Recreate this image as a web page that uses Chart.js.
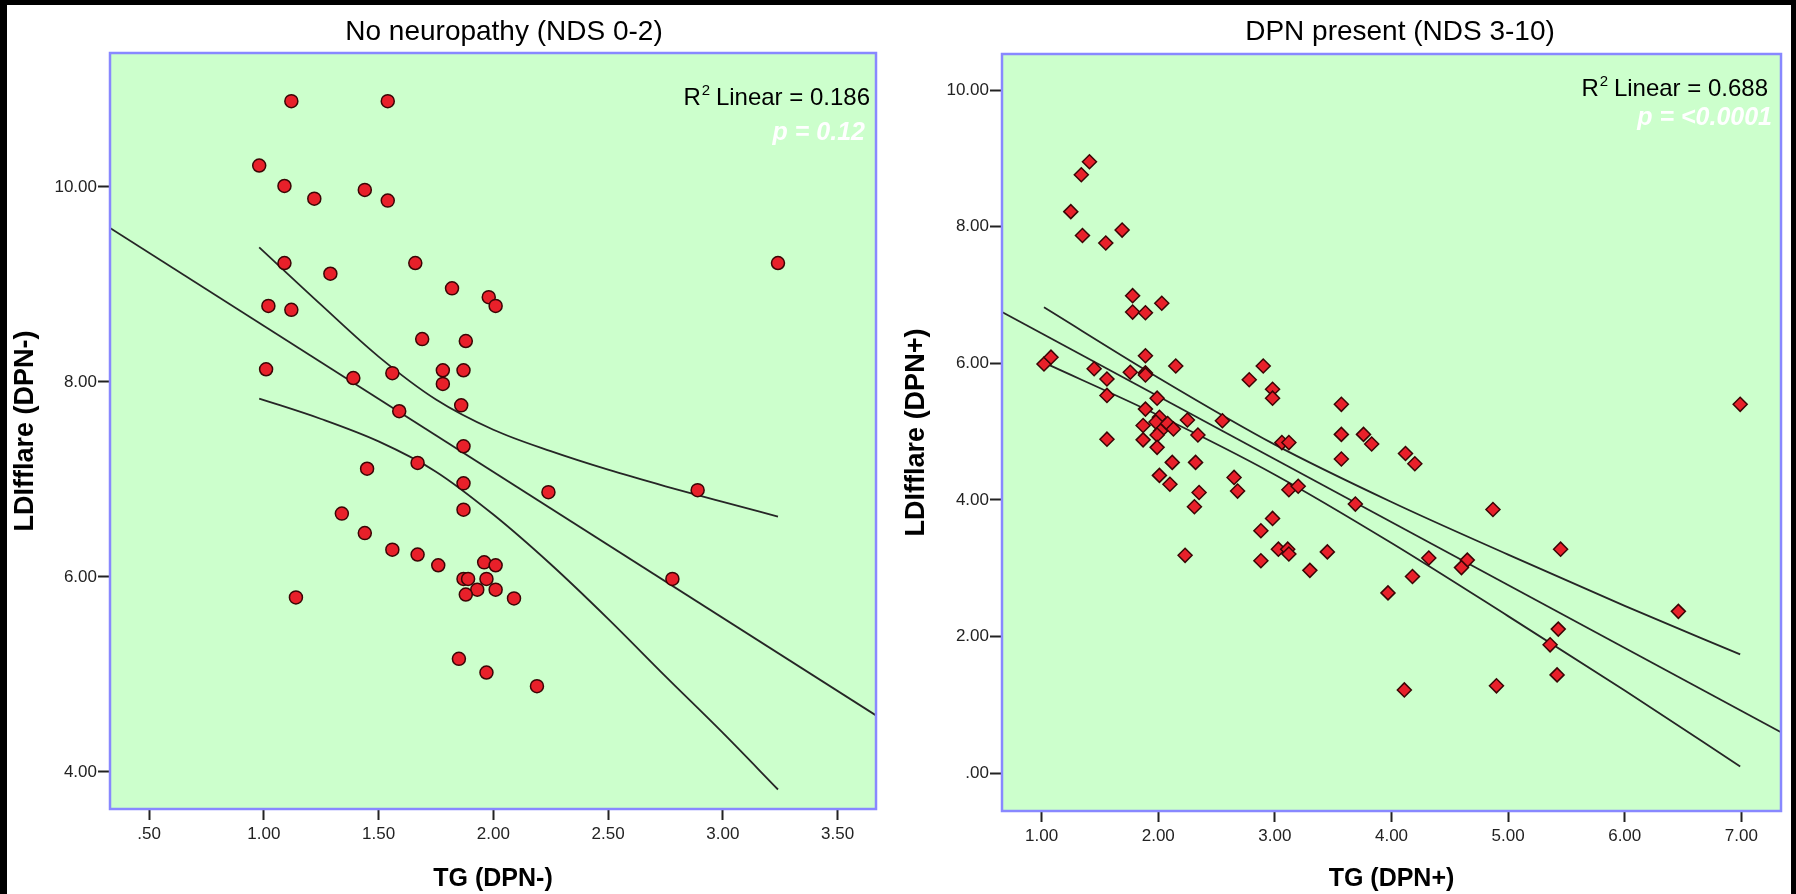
<!DOCTYPE html>
<html>
<head>
<meta charset="utf-8">
<title>LDIflare vs TG</title>
<script src="https://cdn.jsdelivr.net/npm/chart.js@4.4.1/dist/chart.umd.min.js"></script>
<style>
  html, body { margin: 0; padding: 0; background: #000; }
  #page { position: relative; width: 1796px; height: 894px; background: #000; overflow: hidden; }
  #sheet { position: absolute; left: 7px; top: 5px; width: 1784px; height: 889px; background: #fff; }
  .panel { position: absolute; top: 0; width: 898px; height: 894px; }
</style>
</head>
<body>
<div id="page">
  <div id="sheet"></div>
  <div class="panel" style="left:0"><canvas id="chartNoDpn" width="898" height="894"></canvas></div>
  <div class="panel" style="left:898px"><canvas id="chartDpn" width="898" height="894"></canvas></div>
</div>
<script>
// --- No neuropathy (NDS 0-2) ---
const tgNoDpn = [1.12, 1.54, 0.98, 1.09, 1.22, 1.44, 1.54, 1.09, 1.29, 1.66, 3.24, 1.82, 1.98, 2.01,
  1.02, 1.12, 1.69, 1.88, 1.01, 1.78, 1.87, 1.78, 1.39, 1.56, 1.86, 1.59, 1.87, 1.45, 1.67, 1.87,
  2.24, 2.89, 1.34, 1.87, 1.44, 1.56, 1.67, 1.76, 1.96, 2.01, 1.87, 1.89, 1.97, 2.78, 1.14, 1.93,
  2.01, 1.88, 2.09, 1.85, 1.97, 2.19];
const ldiNoDpn = [10.88, 10.88, 10.22, 10.01, 9.88, 9.97, 9.86, 9.22, 9.11, 9.22, 9.22, 8.96, 8.87, 8.78,
  8.78, 8.74, 8.44, 8.42, 8.13, 8.12, 8.12, 7.98, 8.04, 8.09, 7.76, 7.70, 7.34, 7.11, 7.17, 6.96,
  6.87, 6.89, 6.65, 6.69, 6.45, 6.28, 6.23, 6.12, 6.15, 6.12, 5.98, 5.98, 5.98, 5.98, 5.79, 5.87,
  5.87, 5.82, 5.78, 5.16, 5.02, 4.88];

// fit line and 95% mean CI band
const fitNoX = [0.33, 3.667];
const fitNoY = [9.58, 4.58];
const upperNoX = [0.98, 1.25, 1.5, 1.75, 2.0, 2.25, 2.5, 2.75, 3.0, 3.24];
const upperNoY = [9.38, 8.79, 8.26, 7.82, 7.51, 7.29, 7.10, 6.93, 6.77, 6.62];
const lowerNoX = [0.98, 1.25, 1.5, 1.75, 2.0, 2.25, 2.5, 2.75, 3.0, 3.24];
const lowerNoY = [7.83, 7.62, 7.39, 7.08, 6.64, 6.13, 5.57, 4.98, 4.40, 3.82];

const xTicksNoDpn = [0.5, 1, 1.5, 2, 2.5, 3, 3.5];
const yTicksNoDpn = [4, 6, 8, 10];

// --- DPN present (NDS 3-10) ---
const tgDpn = [1.41, 1.34, 1.25, 1.35, 1.55, 1.69, 1.78, 1.78, 1.89, 2.03, 1.02, 1.08, 1.45, 1.56,
  1.56, 1.56, 1.76, 1.89, 1.89, 1.89, 2.15, 1.99, 1.89, 2.01, 1.98, 2.08, 2.13, 2.02, 1.99, 1.87,
  1.87, 1.99, 2.25, 2.34, 2.55, 2.78, 2.90, 2.98, 2.98, 3.06, 3.12, 3.57, 3.57, 3.57, 3.76, 3.83,
  4.12, 4.20, 6.99, 2.12, 2.32, 2.01, 2.10, 2.65, 2.68, 2.35, 2.31, 3.12, 3.20, 3.69, 2.98, 2.88,
  3.03, 3.11, 3.12, 3.45, 2.88, 3.30, 2.23, 4.87, 5.45, 4.32, 4.65, 4.60, 4.18, 3.97, 6.46, 5.43,
  5.36, 5.42, 4.11, 4.90];
const ldiDpn = [8.95, 8.76, 8.22, 7.87, 7.76, 7.95, 6.99, 6.75, 6.74, 6.88, 5.99, 6.09, 5.92, 5.77,
  5.53, 4.89, 5.87, 6.11, 5.86, 5.83, 5.96, 5.49, 5.33, 5.21, 5.14, 5.12, 5.04, 5.01, 4.95, 5.09,
  4.88, 4.77, 5.17, 4.95, 5.16, 5.76, 5.96, 5.62, 5.49, 4.84, 4.84, 5.40, 4.96, 4.60, 4.96, 4.82,
  4.68, 4.53, 5.40, 4.55, 4.55, 4.36, 4.23, 4.33, 4.13, 4.11, 3.90, 4.15, 4.20, 3.94, 3.73, 3.55,
  3.28, 3.28, 3.21, 3.24, 3.11, 2.97, 3.19, 3.86, 3.28, 3.15, 3.12, 3.01, 2.88, 2.64, 2.37, 2.11,
  1.88, 1.44, 1.22, 1.28];

const fitDpnX = [0.66, 7.34];
const fitDpnY = [6.75, 0.60];
const upperDpnX = [1.02, 2.0, 3.0, 4.0, 5.0, 6.0, 6.99];
const upperDpnY = [6.82, 5.79, 4.81, 3.97, 3.20, 2.45, 1.74];
const lowerDpnX = [1.02, 2.0, 3.0, 4.0, 5.0, 6.0, 6.99];
const lowerDpnY = [6.01, 5.24, 4.37, 3.37, 2.30, 1.21, 0.10];

const xTicksDpn = [1, 2, 3, 4, 5, 6, 7];
const yTicksDpn = [0, 2, 4, 6, 8, 10];

const FONT = "'Liberation Sans', Arial, sans-serif";
const zip = (xs, ys) => xs.map((x, i) => ({ x: x, y: ys[i] }));

// SPSS style: 0.50 -> .50
function fmtTick(v) {
  return v.toFixed(2).replace(/^0\./, '.');
}

// green plot area with a blue frame
const plotFrame = {
  id: 'plotFrame',
  beforeDraw(chart, args, opts) {
    const { ctx, chartArea: a } = chart;
    ctx.save();
    ctx.fillStyle = opts.fill;
    ctx.fillRect(a.left, a.top, a.width, a.height);
    ctx.restore();
  },
  afterDraw(chart, args, opts) {
    const { ctx, chartArea: a } = chart;
    ctx.save();
    ctx.strokeStyle = opts.stroke;
    ctx.lineWidth = opts.width;
    ctx.strokeRect(a.left, a.top, a.width, a.height);
    ctx.restore();
  }
};

// panel heading, R squared and p value
const panelText = {
  id: 'panelText',
  afterDraw(chart, args, o) {
    const ctx = chart.ctx;
    ctx.save();
    ctx.fillStyle = '#000';
    ctx.textBaseline = 'alphabetic';
    ctx.textAlign = 'center';
    ctx.font = o.titleSize + 'px ' + FONT;
    ctx.fillText(o.title, o.titleX, o.titleY);

    // "R² Linear = x" right aligned
    const big = o.r2Size + 'px ' + FONT;
    const small = Math.round(o.r2Size * 0.62) + 'px ' + FONT;
    const rest = ' Linear = ' + o.r2;
    ctx.textAlign = 'left';
    ctx.font = big;
    const wR = ctx.measureText('R').width;
    const wRest = ctx.measureText(rest).width;
    ctx.font = small;
    const wSup = ctx.measureText('2').width;
    let x = o.r2Right - (wR + wSup + wRest);
    ctx.font = big;
    ctx.fillText('R', x, o.r2Y);
    ctx.font = small;
    ctx.fillText('2', x + wR + 1, o.r2Y - o.r2Size * 0.42);
    ctx.font = big;
    ctx.fillText(rest, x + wR + wSup, o.r2Y);

    ctx.fillStyle = '#fff';
    ctx.textAlign = 'right';
    ctx.font = 'italic bold ' + o.pSize + 'px ' + FONT;
    ctx.fillText(o.p, o.pRight, o.pY);
    ctx.restore();
  }
};

function makePanel(id, d) {
  return new Chart(document.getElementById(id), {
    type: 'scatter',
    data: {
      datasets: [
        {
          data: zip(d.xs, d.ys),
          pointStyle: d.marker,
          pointRadius: d.radius,
          pointBackgroundColor: '#e8202a',
          pointBorderColor: '#3a0505',
          pointBorderWidth: 1.5
        },
        {
          data: zip(d.fitX, d.fitY),
          showLine: true, pointRadius: 0,
          borderColor: '#262626', borderWidth: 1.8
        },
        {
          data: zip(d.upX, d.upY),
          showLine: true, pointRadius: 0, cubicInterpolationMode: 'monotone',
          borderColor: '#262626', borderWidth: 1.8
        },
        {
          data: zip(d.loX, d.loY),
          showLine: true, pointRadius: 0, cubicInterpolationMode: 'monotone',
          borderColor: '#262626', borderWidth: 1.8
        }
      ]
    },
    options: {
      responsive: false,
      animation: false,
      events: [],
      layout: { padding: { left: 0, right: d.padRight, top: d.top, bottom: 0 } },
      scales: {
        x: {
          type: 'linear', min: d.xMin, max: d.xMax,
          afterBuildTicks: s => { s.ticks = d.xTicks.map(v => ({ value: v })); },
          afterFit: s => { s.height = d.xAxisH; },
          grid: { drawOnChartArea: false, tickLength: 11, tickColor: '#222', tickWidth: 2 },
          border: { display: false },
          ticks: { callback: v => fmtTick(v), color: '#222', padding: 4, maxRotation: 0, autoSkip: false,
                   font: { family: FONT, size: 17 } },
          title: { display: true, text: d.xTitle, color: '#000', padding: { top: 0, bottom: 0 },
                   font: { family: FONT, size: 25, weight: 'bold' } }
        },
        y: {
          type: 'linear', min: d.yMin, max: d.yMax,
          afterBuildTicks: s => { s.ticks = d.yTicks.map(v => ({ value: v })); },
          afterFit: s => { s.width = d.yAxisW; },
          grid: { drawOnChartArea: false, tickLength: 12, tickColor: '#222', tickWidth: 2 },
          border: { display: false },
          ticks: { callback: v => fmtTick(v), color: '#222', padding: 1,
                   font: { family: FONT, size: 17 } },
          title: { display: true, text: d.yTitle, color: '#000', padding: { top: d.yTitlePad, bottom: 0 },
                   font: { family: FONT, size: 27, weight: 'bold' } }
        }
      },
      plugins: {
        legend: { display: false },
        tooltip: { enabled: false },
        plotFrame: { fill: '#ccffcc', stroke: '#8888ff', width: 2.5 },
        panelText: d.text
      }
    },
    plugins: [plotFrame, panelText]
  });
}

makePanel('chartNoDpn', {
  xs: tgNoDpn, ys: ldiNoDpn, marker: 'circle', radius: 6.5,
  fitX: fitNoX, fitY: fitNoY, upX: upperNoX, upY: upperNoY, loX: lowerNoX, loY: lowerNoY,
  xMin: 0.33, xMax: 3.667, yMin: 3.62, yMax: 11.374,
  xTicks: xTicksNoDpn, yTicks: yTicksNoDpn,
  xTitle: 'TG (DPN-)', yTitle: 'LDIfflare (DPN-)',
  top: 53, padRight: 22, xAxisH: 85, yAxisW: 110, yTitlePad: 9.8,
  text: { title: 'No neuropathy (NDS 0-2)', titleX: 504, titleY: 40, titleSize: 28,
          r2: '0.186', r2Right: 870, r2Y: 105, r2Size: 24,
          p: 'p = 0.12', pRight: 865, pY: 140, pSize: 25 }
});

makePanel('chartDpn', {
  xs: tgDpn, ys: ldiDpn, marker: 'rectRot', radius: 7,
  fitX: fitDpnX, fitY: fitDpnY, upX: upperDpnX, upY: upperDpnY, loX: lowerDpnX, loY: lowerDpnY,
  xMin: 0.66, xMax: 7.34, yMin: -0.552, yMax: 10.527,
  xTicks: xTicksDpn, yTicks: yTicksDpn,
  xTitle: 'TG (DPN+)', yTitle: 'LDIfflare (DPN+)',
  top: 54, padRight: 15, xAxisH: 83, yAxisW: 104, yTitlePad: 2,
  text: { title: 'DPN present (NDS 3-10)', titleX: 502, titleY: 40, titleSize: 28,
          r2: '0.688', r2Right: 870, r2Y: 96, r2Size: 24,
          p: 'p = <0.0001', pRight: 874, pY: 125, pSize: 25 }
});
</script>
</body>
</html>
